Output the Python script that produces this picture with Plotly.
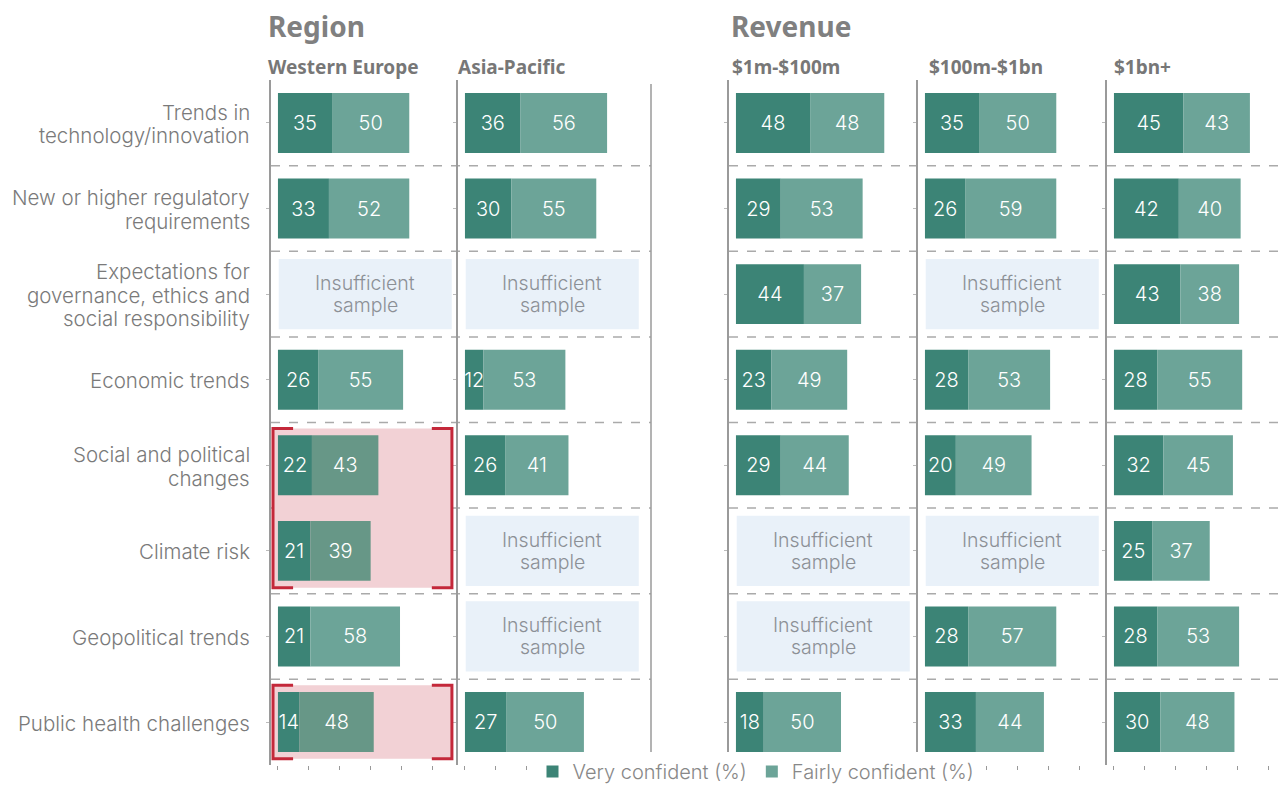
import plotly.graph_objects as go

categories = [
    "Trends in<br>technology/innovation",
    "New or higher regulatory<br>requirements",
    "Expectations for<br>governance, ethics and<br>social responsibility",
    "Economic trends",
    "Social and political<br>changes",
    "Climate risk",
    "Geopolitical trends",
    "Public health challenges",
]
panels = ["Western Europe", "Asia-Pacific", "$1m-$100m", "$100m-$1bn", "$1bn+"]
very = [
    [35, 33, None, 26, 22, 21, 21, 14],
    [36, 30, None, 12, 26, None, None, 27],
    [48, 29, 44, 23, 29, None, None, 18],
    [35, 26, None, 28, 20, None, 28, 33],
    [45, 42, 43, 28, 32, 25, 28, 30],
]
fairly = [
    [50, 52, None, 55, 43, 39, 58, 48],
    [56, 55, None, 53, 41, None, None, 50],
    [48, 53, 37, 49, 44, None, None, 50],
    [50, 59, None, 53, 49, None, 57, 44],
    [43, 40, 38, 55, 45, 37, 53, 48],
]
highlight_rows = [[4, 5], [7]]  # Western Europe highlighted groups
tick_vals = [0, 20, 40, 60, 80, 100]
insufficient_text = ["Insufficient", "sample"]

# page body has an 8px margin: figure is drawn smaller and coordinates shifted
M = 8
W, H = 1287 - M, 791 - M


def px(x):
    return (x - M) / W


def py(y):
    return 1 - (y - M) / H


K = 1.545  # px per unit
OFF = 4.5
panel_px = [(271, 458), (458, 651), (729, 918), (918, 1107), (1107, 1283)]
title_px = [267, 457, 731, 928, 1113]
TOP, BOT = 80.2, 764.8
row_h = (BOT - TOP) / len(categories)

DARK = "#3c8476"
LIGHT = "#6ca498"
LIGHT_HL = "#679787"
GRID = "#aaaaaa"
AXIS = "#9a9a9a"
TXT = "#777777"
LBL_FONT = "Inter"
HDR_FONT = "Noto Sans"
NUM_FONT = "Inter"

fig = go.Figure()
layout_axes = {}
shapes = []
annotations = []

for i, name in enumerate(panels):
    xa = "x" if i == 0 else f"x{i+1}"
    ya = "y" if i == 0 else f"y{i+1}"
    x0, x1 = panel_px[i]
    rng_max = (x1 - x0) / K - OFF
    yv = list(range(len(categories)))
    lcolors = []
    for r in yv:
        if i == 0 and any(r in g for g in highlight_rows):
            lcolors.append(LIGHT_HL)
        else:
            lcolors.append(LIGHT)
    fig.add_trace(go.Bar(
        y=yv, x=very[i], orientation="h", marker_color=DARK,
        name="Very confident (%)", legendgroup="v", showlegend=(i == 0),
        text=[("" if v is None else str(v)) for v in very[i]],
        textposition="inside", insidetextanchor="middle",
        textfont=dict(color="white", size=20, family=NUM_FONT, weight=300),
        xaxis=xa, yaxis=ya, marker_line_width=0, cliponaxis=False,
    ))
    fig.add_trace(go.Bar(
        y=yv, x=fairly[i], orientation="h", marker_color=lcolors,
        base=[(0 if v is None else v) for v in very[i]],
        name="Fairly confident (%)", legendgroup="f", showlegend=(i == 0),
        text=[("" if v is None else str(v)) for v in fairly[i]],
        textposition="inside", insidetextanchor="middle",
        textfont=dict(color="white", size=20, family=NUM_FONT, weight=300),
        xaxis=xa, yaxis=ya, marker_line_width=0, cliponaxis=False,
    ))
    kx = "xaxis" if i == 0 else f"xaxis{i+1}"
    ky = "yaxis" if i == 0 else f"yaxis{i+1}"
    layout_axes[kx] = dict(
        domain=[px(x0), min(px(x1), 1)], range=[-OFF, rng_max], anchor=ya,
        showgrid=False, zeroline=False, showline=False,
        tickvals=tick_vals, showticklabels=False, ticks="outside",
        ticklen=4, tickcolor="#999999", tickwidth=1, fixedrange=True,
    )
    layout_axes[ky] = dict(
        domain=[py(BOT), py(TOP)], range=[len(categories) - 0.5, -0.5],
        anchor=xa, showgrid=False, zeroline=False, showline=True,
        linecolor=AXIS, linewidth=1.5, tickvals=yv, showticklabels=False,
        ticks="outside", ticklen=3, tickcolor="#bbbbbb", fixedrange=True,
    )
    # panel subtitle
    annotations.append(dict(
        x=px(title_px[i] - 1), y=py(67), xref="paper", yref="paper",
        text=f"<b>{name}</b>", showarrow=False, xanchor="left", yanchor="middle",
        font=dict(size=19, color=TXT, family=HDR_FONT),
    ))
    # insufficient sample boxes
    for r in yv:
        if very[i][r] is None:
            shapes.append(dict(
                type="rect", xref=xa, yref=ya, x0=0.5, x1=112.5,
                y0=r - 0.41, y1=r + 0.41, fillcolor="#e9f1f9",
                line_width=0, layer="below",
            ))
            yc = TOP + (r + 0.5) * row_h
            for li, t in enumerate(insufficient_text):
                annotations.append(dict(
                    x=56.5, y=py(yc + (li - 0.5) * 22), xref=xa, yref="paper",
                    text=t, showarrow=False, yanchor="middle",
                    font=dict(size=19.5, color="#8c9096", family=LBL_FONT, weight=300),
                ))
    if i == 0:
        for g in highlight_rows:
            ya0, ya1 = min(g) - 0.43, max(g) + 0.43
            hx0, hx1 = -3.2, 112.6
            shapes.append(dict(
                type="rect", xref=xa, yref=ya, x0=hx0, x1=hx1, y0=ya0, y1=ya1,
                fillcolor="#f2d1d5", line_width=0, layer="below",
            ))
            stub = 13
            shapes.append(dict(
                type="path", xref=xa, yref=ya, layer="above",
                path=f"M {hx0+stub},{ya0} L {hx0},{ya0} L {hx0},{ya1} L {hx0+stub},{ya1}",
                line=dict(color="#c4283a", width=3),
            ))
            shapes.append(dict(
                type="path", xref=xa, yref=ya, layer="above",
                path=f"M {hx1-stub},{ya0} L {hx1},{ya0} L {hx1},{ya1} L {hx1-stub},{ya1}",
                line=dict(color="#c4283a", width=3),
            ))

# row divider dashed lines (across groups)
for r in range(1, len(categories)):
    yp = py(TOP + r * row_h)
    for gx0, gx1 in [(271, 651), (729, 1283)]:
        shapes.append(dict(
            type="line", xref="paper", yref="paper", x0=px(gx0), x1=min(px(gx1), 1),
            y0=yp, y1=yp, line=dict(color=GRID, width=1.5, dash="dash"), layer="below",
        ))
# group separator
shapes.append(dict(
    type="line", xref="paper", yref="paper", x0=px(651), x1=px(651),
    y0=py(BOT), y1=py(84), line=dict(color=AXIS, width=1.5),
))

# category labels (one annotation per line for tighter line spacing)
LINE = 23.5
for r, c in enumerate(categories):
    lines = c.split("<br>")
    yc = TOP + (r + 0.5) * row_h + 1
    for li, t in enumerate(lines):
        annotations.append(dict(
            x=px(252), y=py(yc + (li - (len(lines) - 1) / 2) * LINE),
            xref="paper", yref="paper", text=t, showarrow=False,
            xanchor="right", yanchor="middle",
            font=dict(size=20.5, color="#7a7a7a", family=LBL_FONT, weight=300),
        ))

# group headers
for txt, hx in [("Region", 266), ("Revenue", 729)]:
    annotations.append(dict(
        x=px(hx), y=1, xref="paper", yref="paper", text=f"<b>{txt}</b>",
        showarrow=False, xanchor="left", yanchor="top", yshift=3,
        font=dict(size=28, color="#808080", family=HDR_FONT),
    ))

fig.update_layout(
    width=W, height=H, margin=dict(l=0, r=0, t=0, b=0),
    paper_bgcolor="white", plot_bgcolor="white",
    barmode="overlay", bargap=0.3,
    uniformtext=dict(minsize=20, mode="show"),
    showlegend=True,
    legend=dict(orientation="h", x=px(756), y=0, xanchor="center",
                yanchor="bottom",
                font=dict(size=20, color="#888888", family=LBL_FONT, weight=300),
                itemclick=False, itemdoubleclick=False, traceorder="normal"),
    shapes=shapes, annotations=annotations,
    **layout_axes,
)
fig.write_html("out.html")
